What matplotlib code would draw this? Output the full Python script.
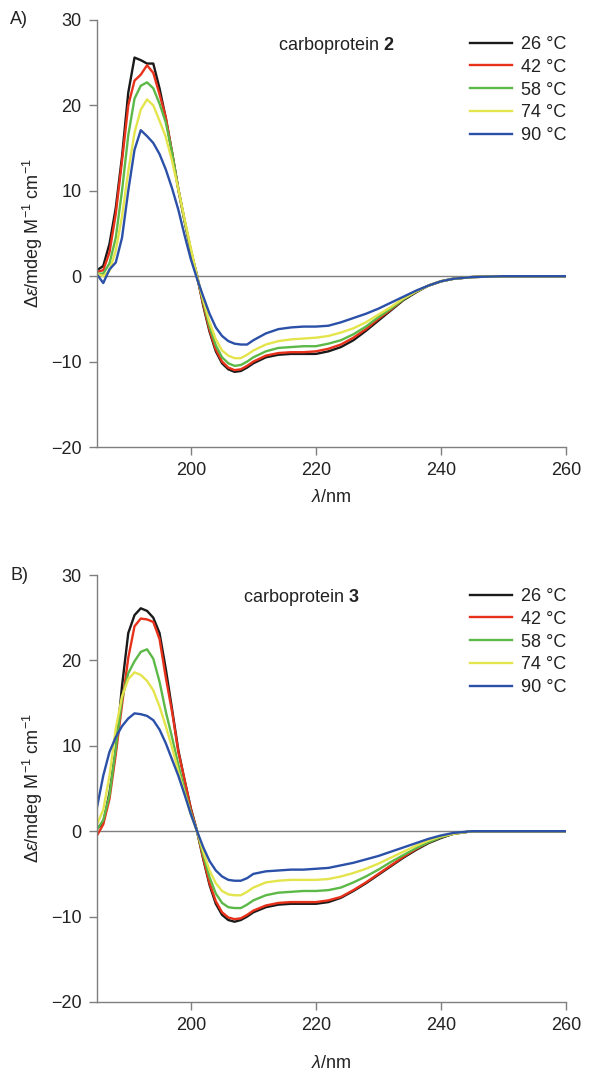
import matplotlib
matplotlib.use("Agg")
import matplotlib.pyplot as plt

plt.rcParams['font.family'] = ['Liberation Sans', 'DejaVu Sans']
plt.rcParams['mathtext.fontset'] = 'custom'
plt.rcParams['mathtext.rm'] = 'Liberation Sans'
plt.rcParams['mathtext.it'] = 'Liberation Sans:italic'
plt.rcParams['mathtext.bf'] = 'Liberation Sans:bold'

# ---------------- data ----------------
wavelength = [185, 186, 187, 188, 189, 190, 191, 192, 193, 194, 195, 196, 197, 198, 199,
              200, 201, 202, 203, 204, 205, 206, 207, 208, 209, 210, 212, 214, 216, 218,
              220, 222, 224, 226, 228, 230, 232, 234, 236, 238, 240, 242, 245, 250, 255, 260]

temps = ["26 °C", "42 °C", "58 °C", "74 °C", "90 °C"]
colors = ["#1a1a1a", "#e8311a", "#5cb947", "#e4e44c", "#2b50a8"]

# Panel A: carboprotein 2
a_26 = [0.7, 1.2, 3.8, 8.0, 14.0, 21.5, 25.6, 25.3, 24.9, 24.9, 22.0, 18.5, 14.5, 10.2, 6.5,
        3.0, 0.1, -3.5, -6.5, -8.8, -10.2, -10.9, -11.2, -11.1, -10.7, -10.2, -9.5, -9.2, -9.1, -9.1,
        -9.1, -8.8, -8.3, -7.5, -6.4, -5.2, -4.0, -2.8, -1.9, -1.1, -0.6, -0.3, -0.1, 0.0, 0.0, 0.0]
a_42 = [0.5, 0.7, 2.8, 7.3, 13.5, 20.0, 22.9, 23.6, 24.7, 23.8, 21.3, 18.6, 14.5, 10.2, 6.5,
        3.0, -0.1, -3.3, -6.3, -8.6, -10.0, -10.7, -11.0, -10.9, -10.5, -10.0, -9.3, -9.0, -8.9, -8.9,
        -8.8, -8.5, -8.0, -7.2, -6.2, -5.0, -3.9, -2.7, -1.8, -1.1, -0.6, -0.3, -0.1, 0.0, 0.0, 0.0]
a_58 = [0.3, 0.3, 1.5, 4.5, 10.0, 16.5, 20.8, 22.3, 22.7, 22.0, 20.2, 18.0, 14.5, 10.2, 6.5,
        3.1, -0.1, -3.0, -5.9, -8.1, -9.5, -10.2, -10.5, -10.4, -10.0, -9.5, -8.8, -8.4, -8.3, -8.2,
        -8.2, -7.9, -7.5, -6.8, -5.9, -4.8, -3.8, -2.7, -1.8, -1.1, -0.6, -0.3, -0.1, 0.0, 0.0, 0.0]
a_74 = [0.3, 0.0, 0.6, 3.0, 7.0, 12.3, 16.8, 19.5, 20.7, 20.0, 18.2, 16.3, 13.5, 10.2, 6.7,
        3.3, 0.0, -2.8, -5.4, -7.4, -8.7, -9.3, -9.6, -9.6, -9.2, -8.7, -8.0, -7.6, -7.4, -7.3,
        -7.2, -7.0, -6.6, -6.1, -5.4, -4.5, -3.6, -2.6, -1.8, -1.1, -0.6, -0.3, -0.1, 0.0, 0.0, 0.0]
a_90 = [0.2, -0.8, 0.8, 1.6, 4.5, 10.0, 14.8, 17.1, 16.4, 15.6, 14.3, 12.5, 10.3, 7.8, 4.8,
        2.0, -0.3, -2.4, -4.4, -6.0, -7.0, -7.6, -7.9, -8.0, -8.0, -7.5, -6.7, -6.2, -6.0, -5.9,
        -5.9, -5.8, -5.4, -4.9, -4.4, -3.8, -3.1, -2.4, -1.7, -1.1, -0.6, -0.3, -0.1, 0.0, 0.0, 0.0]

# Panel B: carboprotein 3
b_26 = [0.3, 1.0, 4.5, 9.5, 17.0, 23.2, 25.3, 26.1, 25.8, 25.0, 23.2, 19.0, 14.3, 9.5, 6.0,
        2.7, 0.0, -3.3, -6.3, -8.5, -9.8, -10.4, -10.6, -10.4, -10.0, -9.5, -8.9, -8.6, -8.5, -8.5,
        -8.5, -8.3, -7.8, -7.0, -6.1, -5.1, -4.1, -3.1, -2.2, -1.4, -0.8, -0.3, 0.0, 0.0, 0.0, 0.0]
b_42 = [-0.5, 0.8, 3.8, 9.0, 14.8, 20.3, 24.0, 24.9, 24.8, 24.5, 22.5, 18.0, 14.0, 9.3, 6.0,
        2.6, 0.0, -3.2, -6.1, -8.2, -9.5, -10.1, -10.3, -10.2, -9.8, -9.3, -8.7, -8.4, -8.3, -8.3,
        -8.3, -8.1, -7.7, -6.9, -6.0, -5.0, -4.0, -3.0, -2.1, -1.3, -0.7, -0.3, 0.0, 0.0, 0.0, 0.0]
b_58 = [0.2, 1.3, 4.2, 9.7, 15.5, 18.5, 19.9, 21.0, 21.3, 20.2, 17.5, 14.0, 11.0, 7.8, 4.8,
        2.2, 0.0, -2.8, -5.4, -7.3, -8.4, -8.9, -9.0, -9.0, -8.6, -8.1, -7.5, -7.2, -7.1, -7.0,
        -7.0, -6.9, -6.6, -6.0, -5.3, -4.5, -3.6, -2.8, -2.0, -1.3, -0.7, -0.3, 0.0, 0.0, 0.0, 0.0]
b_74 = [0.8, 2.5, 6.5, 12.0, 15.8, 17.8, 18.6, 18.3, 17.6, 16.5, 14.6, 12.3, 9.8, 7.0, 4.5,
        2.0, 0.0, -2.4, -4.6, -6.1, -7.0, -7.4, -7.5, -7.5, -7.1, -6.6, -6.0, -5.8, -5.7, -5.7,
        -5.7, -5.6, -5.3, -4.9, -4.4, -3.8, -3.1, -2.4, -1.7, -1.1, -0.6, -0.3, 0.0, 0.0, 0.0, 0.0]
b_90 = [2.8, 6.5, 9.3, 11.0, 12.3, 13.2, 13.8, 13.7, 13.5, 13.0, 11.9, 10.3, 8.4, 6.5, 4.3,
        2.0, 0.0, -1.9, -3.5, -4.6, -5.3, -5.7, -5.8, -5.8, -5.5, -5.0, -4.7, -4.6, -4.5, -4.5,
        -4.4, -4.3, -4.0, -3.7, -3.3, -2.9, -2.4, -1.9, -1.4, -0.9, -0.5, -0.2, 0.0, 0.0, 0.0, 0.0]

panels = [
    ("A)", "2", [a_26, a_42, a_58, a_74, a_90]),
    ("B)", "3", [b_26, b_42, b_58, b_74, b_90]),
]

x_ticks = [200, 220, 240, 260]
y_ticks = [30, 20, 10, 0, -10, -20]

# ---------------- figure ----------------
W, H = 591, 1077
fig = plt.figure(figsize=(W / 100, H / 100), dpi=100)

axes_px = [(97, 20, 566, 447), (97, 575, 566, 1002)]  # left, top, right, bottom
label_y = [20, 575]
xlabel_offset = [50, 61]
legend_top = [36, 588]
text_pos = [(278, 45), (243, 598)]

GRAY = "#7f7f7f"
FS = 13

for i, (plabel, num, series) in enumerate(panels):
    l, t, r, b = axes_px[i]
    ax = fig.add_axes([l / W, 1 - b / H, (r - l) / W, (b - t) / H])
    ax.axhline(0, color=GRAY, lw=1.0, zorder=1)
    for vals, c, lab in zip(series, colors, temps):
        ax.plot(wavelength, vals, color=c, lw=1.7, label=lab, zorder=2,
                solid_joinstyle="round")
    ax.set_xlim(185, 260)
    ax.set_ylim(-20, 30)
    ax.set_xticks(x_ticks)
    ax.set_yticks(y_ticks)
    for s in ["top", "right"]:
        ax.spines[s].set_visible(False)
    for s in ["left", "bottom"]:
        ax.spines[s].set_color(GRAY)
        ax.spines[s].set_linewidth(1.0)
    ax.tick_params(direction="out", length=6, width=1.0, color=GRAY,
                   labelsize=FS, labelcolor="#222222", pad=5)
    ax.set_xlabel(r"$\mathit{λ}$/nm", fontsize=FS, color="#222222")
    ax.xaxis.set_label_coords(0.5, -xlabel_offset[i] / (b - t))
    ax.xaxis.label.set_va("center")
    ax.set_ylabel(r"$\mathit{Δε}$/mdeg M$^{-1}$ cm$^{-1}$", fontsize=FS, color="#222222")
    ax.yaxis.set_label_coords(-(l - 33) / (r - l), 0.5)
    ax.yaxis.label.set_va("center")

    tx, ty = text_pos[i]
    ax.text((tx - l) / (r - l), (b - ty) / (b - t), "carboprotein $\\mathbf{" + num + "}$",
            transform=ax.transAxes, fontsize=FS, va="center", ha="left", color="#222222")

    leg = ax.legend(loc="upper left",
                    bbox_to_anchor=((470 - l) / (r - l), (b - legend_top[i]) / (b - t)),
                    frameon=False, fontsize=FS, handlelength=2.3, handletextpad=0.55,
                    labelspacing=0.32, borderpad=0, borderaxespad=0)
    for txt in leg.get_texts():
        txt.set_color("#222222")

    fig.text(10 / W, 1 - label_y[i] / H, plabel, fontsize=FS, va="center", ha="left",
             color="#222222")

fig.savefig("out.png", dpi=100)
